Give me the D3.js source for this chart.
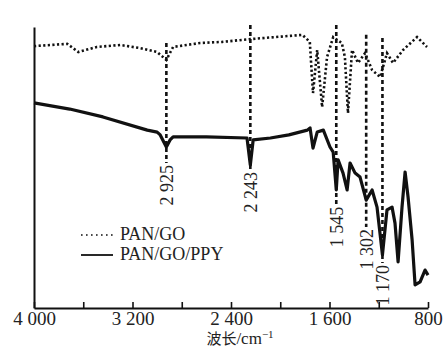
<!DOCTYPE html>
<html>
<head>
<meta charset="utf-8">
<script src="https://cdn.jsdelivr.net/npm/d3@7"></script>
<style>
  html, body { margin: 0; padding: 0; background: #fff; }
  svg { display: block; }
  .serif { font-family: "Liberation Serif", "Times New Roman", "DejaVu Serif", serif; }
</style>
</head>
<body>
<svg id="chart" width="444" height="349"></svg>
<script>
// ---- data (wavenumber in cm-1, transmittance in arbitrary %) ----
const panGoWn = [4000, 3730, 3640, 3490, 3300, 3140, 3000, 2925, 2870, 2650, 2470, 2243, 1820, 1760, 1734, 1700, 1660, 1620, 1570, 1500, 1475, 1450, 1417, 1368, 1311, 1254, 1189, 1133, 1084, 1003, 889, 808];
const panGoT  = [93.2, 94.0, 91.1, 92.9, 93.6, 92.5, 91.1, 88.3, 92.9, 94.3, 94.7, 95.7, 97.2, 94.7, 76.5, 91.8, 71.5, 89.3, 96.4, 94.3, 89.3, 69.4, 91.8, 87.2, 90.7, 84.7, 82.2, 90.7, 87.2, 91.8, 96.4, 92.9];

const ppyWn = [4000, 3710, 3440, 3080, 3000, 2975, 2925, 2895, 2870, 2600, 2270, 2243, 2220, 2080, 1930, 1780, 1758, 1734, 1700, 1650, 1596, 1570, 1545, 1530, 1490, 1457, 1433, 1392, 1352, 1302, 1254, 1214, 1170, 1133, 1092, 1068, 1043, 1011, 986, 962, 929, 905, 864, 824, 800];
const ppyT  = [73.0, 70.8, 68.0, 63.3, 62.6, 61.6, 57.3, 59.8, 60.9, 60.9, 60.5, 50.9, 59.8, 60.5, 61.6, 63.3, 64.1, 56.9, 62.6, 63.3, 57.3, 55.5, 42.0, 52.7, 48.0, 42.0, 51.6, 48.0, 46.6, 38.4, 42.0, 35.9, 18.9, 34.9, 35.9, 30.2, 16.4, 35.9, 48.4, 39.5, 24.2, 8.2, 9.3, 13.5, 11.7];

const peakWn     = [2925, 2243, 1545, 1302, 1170];
const peakLabels = ["2 925", "2 243", "1 545", "1 302", "1 170"];
const peakTopT   = [94.3, 100.7, 100.7, 97.2, 96.1];
const peakLabelT = [51.6, 49.1, 36.7, 28.8, 16.0];

const tickValues = [4000, 3600, 3200, 2800, 2400, 2000, 1600, 1200, 800];
const tickLabels = {4000: "4 000", 3200: "3 200", 2400: "2 400", 1600: "1 600", 800: "800"};

const seriesNames = ["PAN/GO", "PAN/GO/PPY"];

// ---- layout ----
const svg = d3.select("#chart");
const mLeft = 34, mRight = 428, mTop = 27, mBottom = 308;

const x = d3.scaleLinear().domain([4000, 800]).range([mLeft, mRight]);
const y = d3.scaleLinear().domain([0, 100]).range([mBottom, mTop]);

const line = d3.line().x(d => x(d[0])).y(d => y(d[1])).curve(d3.curveLinear);

// peak marker lines
peakWn.forEach((wn, i) => {
  svg.append("line")
    .attr("x1", x(wn)).attr("x2", x(wn))
    .attr("y1", y(peakTopT[i])).attr("y2", y(peakLabelT[i]))
    .attr("stroke", "#111").attr("stroke-width", 2.6)
    .attr("stroke-dasharray", "4,3");
  svg.append("text")
    .attr("class", "serif")
    .attr("transform", `translate(${x(wn)},${y(peakLabelT[i]) + 2}) rotate(-90)`)
    .attr("text-anchor", "end")
    .attr("dy", "0.35em")
    .attr("font-size", 18)
    .attr("fill", "#222")
    .text(peakLabels[i]);
});

// PAN/GO dotted
svg.append("path")
  .datum(panGoWn.map((w, i) => [w, panGoT[i]]))
  .attr("d", line)
  .attr("fill", "none").attr("stroke", "#111")
  .attr("stroke-width", 2.6).attr("stroke-dasharray", "2.2,2.4");

// PAN/GO/PPY solid
svg.append("path")
  .datum(ppyWn.map((w, i) => [w, ppyT[i]]))
  .attr("d", line)
  .attr("fill", "none").attr("stroke", "#111")
  .attr("stroke-width", 3.2).attr("stroke-linejoin", "round");

// axes
const xAxis = d3.axisBottom(x)
  .tickValues(tickValues)
  .tickSizeInner(-6).tickSizeOuter(0)
  .tickPadding(3)
  .tickFormat(d => tickLabels[d] || "");
const gx = svg.append("g").attr("transform", `translate(0,${mBottom})`).call(xAxis);
gx.select(".domain").attr("stroke", "#111").attr("stroke-width", 2);
gx.selectAll(".tick line").attr("stroke", "#111").attr("stroke-width", 1.6);
gx.selectAll(".tick text")
  .attr("font-family", "'Liberation Serif', 'Times New Roman', serif")
  .attr("font-size", 19).attr("fill", "#222");

const yAxis = d3.axisLeft(y).tickValues([]).tickSizeOuter(0);
const gy = svg.append("g").attr("transform", `translate(${mLeft},0)`).call(yAxis);
gy.select(".domain").attr("stroke", "#111").attr("stroke-width", 2);

// axis title
const title = svg.append("text")
  .attr("x", 240).attr("y", 344)
  .attr("text-anchor", "middle")
  .attr("fill", "#222");
title.append("tspan")
  .attr("font-family", "'Noto Sans CJK SC', sans-serif")
  .attr("font-size", 15)
  .text("波长");
title.append("tspan")
  .attr("font-family", "'Liberation Serif', 'Times New Roman', serif")
  .attr("font-size", 17)
  .text("/cm");
title.append("tspan")
  .attr("font-family", "'Liberation Serif', 'Times New Roman', serif")
  .attr("font-size", 11)
  .attr("dy", -6)
  .text("−1");

// legend
const legend = svg.append("g");
const legendStyles = [
  {dash: "1.6,3.4", width: 1.6},
  {dash: null, width: 1.8}
];
seriesNames.forEach((name, i) => {
  const yy = 235 + i * 20;
  legend.append("line")
    .attr("x1", 81).attr("x2", 113)
    .attr("y1", yy).attr("y2", yy)
    .attr("stroke", "#111").attr("stroke-width", legendStyles[i].width)
    .attr("stroke-dasharray", legendStyles[i].dash);
  legend.append("text")
    .attr("class", "serif")
    .attr("x", 120).attr("y", yy + 5)
    .attr("font-size", 18).attr("fill", "#222")
    .text(name);
});
</script>
</body>
</html>
